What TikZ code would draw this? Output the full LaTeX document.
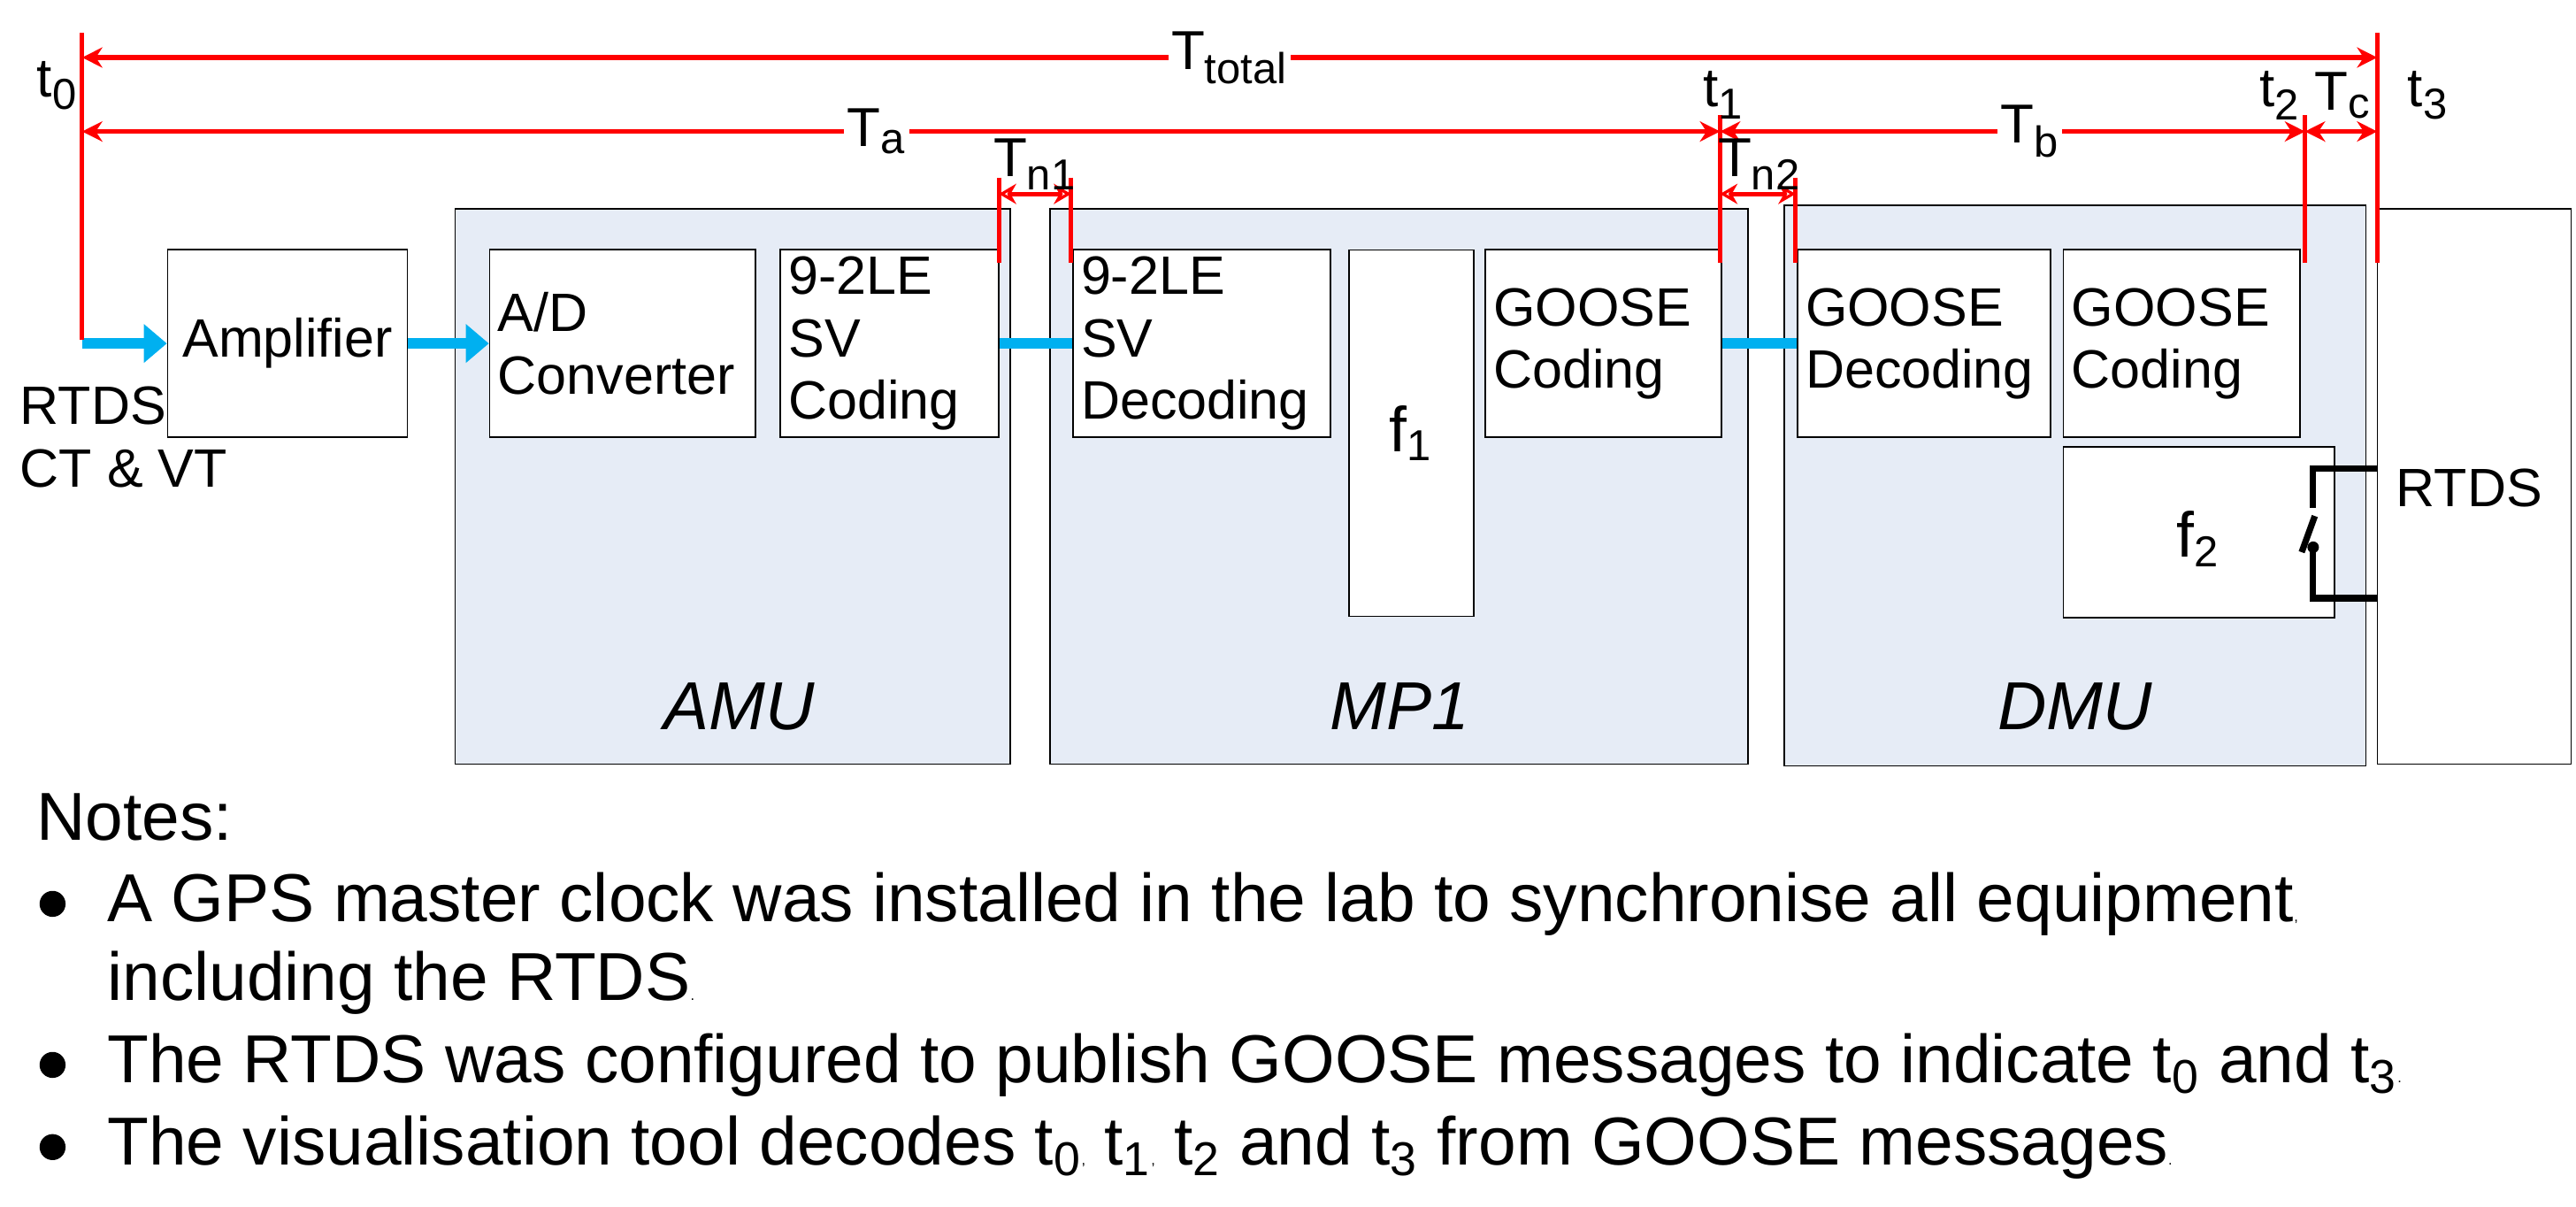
\documentclass[tikz,border=0pt]{standalone}
\usepackage{fontspec}
\setmainfont{Liberation Sans}
\usetikzlibrary{arrows.meta}
\newcommand{\sbs}[1]{\textsubscript{\fontsize{15}{15}\selectfont #1}}
\begin{document}
\begin{tikzpicture}[x=0.02cm,y=-0.02cm,
  box/.style={draw=black,line width=0.5pt,fill=white,inner sep=0pt,font=\fontsize{18.7}{21.5}\selectfont},
  unit/.style={draw=black,line width=0.5pt,fill={rgb,255:red,230;green,236;blue,246}},
  red line/.style={draw=red,line width=1.6pt},
  dim/.style={red line,{Stealth[length=7pt,width=7pt]}-{Stealth[length=7pt,width=7pt]}},
  odim/.style={red line,{Stealth[length=6pt,width=7pt,open]}-{Stealth[length=6pt,width=7pt,open]}},
  sig/.style={draw={rgb,255:red,0;green,176;blue,240},line width=3.5pt},
  sigarrow/.style={sig,-{Triangle[length=8pt,width=13pt]}},
  lab/.style={font=\fontsize{19}{19}\selectfont,inner sep=1pt},
  ital/.style={font=\fontsize{23.5}{23.5}\selectfont\itshape}]
\useasboundingbox (0,0) rectangle (1568,734);
% units
\path[unit] (277,127) rectangle (615,465);
\path[unit] (639,127) rectangle (1064,465);
\path[unit] (1086,125) rectangle (1440,466);
\draw[line width=0.5pt] (1447,127) rectangle (1565,465);
\node[ital] (amu) at (450,430) {AMU};
\node[ital] (mp1) at (852,430) {MP1};
\node[ital] (dmu) at (1263,430) {DMU};
% boxes
\node[box,minimum width=2.92cm,minimum height=2.28cm] (amp) at (175,209) {Amplifier};
\node[box,minimum width=3.24cm,minimum height=2.28cm,align=left,text width=3.04cm] (ad) at (379,209) {A/D\\Converter};
\node[box,minimum width=2.66cm,minimum height=2.28cm,align=left,text width=2.46cm] (svc) at (541.5,209) {9-2LE\\SV\\Coding};
\node[box,minimum width=3.14cm,minimum height=2.28cm,align=left,text width=2.94cm] (svd) at (731.5,209) {9-2LE\\SV\\Decoding};
\node[box,minimum width=1.52cm,minimum height=4.46cm,font=\fontsize{22}{22}\selectfont] (f1) at (859,263.5) {f\sbs{1}};
\node[box,minimum width=2.88cm,minimum height=2.28cm,align=left,text width=2.68cm] (gc1) at (976,209) {GOOSE\\Coding};
\node[box,minimum width=3.08cm,minimum height=2.28cm,align=left,text width=2.88cm] (gd) at (1171,209) {GOOSE\\Decoding};
\node[box,minimum width=2.88cm,minimum height=2.28cm,align=left,text width=2.68cm] (gc2) at (1328,209) {GOOSE\\Coding};
\node[box,minimum width=3.30cm,minimum height=2.08cm] (f2box) at (1338.5,324) {};
\node[font=\fontsize{22}{22}\selectfont] (f2) at (1338,328) {f\sbs{2}};
\node[font=\fontsize{18.7}{18.7}\selectfont] (rtds) at (1503,297) {RTDS};
\node[font=\fontsize{18.7}{21.5}\selectfont,align=left,anchor=west,inner sep=0pt] (src) at (12,266) {RTDS\\CT \& VT};
% switch
\draw[line width=2.2pt] (1447,285) -- (1408,285) -- (1408,309);
\draw[line width=2.2pt] (1401,336) -- (1409,314);
\draw[line width=2.2pt] (1408,333) -- (1408,364) -- (1447,364);
\fill (1408,333) circle (2pt);
% signal flow
\coordinate (s0) at (50,209);
\draw[sigarrow] (s0) -- (amp.west);
\draw[sigarrow] (amp.east) -- (ad.west);
\draw[sig] (svc.east) -- (svd.west);
\draw[sig] (gc1.east) -- (gd.west);
% time markers
\coordinate (t0a) at (50,20); \coordinate (t0b) at (50,207);
\coordinate (t1a) at (1047,70); \coordinate (t1b) at (1047,160);
\coordinate (t2a) at (1403,70); \coordinate (t2b) at (1403,160);
\coordinate (t3a) at (1447,20); \coordinate (t3b) at (1447,160);
\coordinate (n1a) at (608,108); \coordinate (n1b) at (608,160);
\coordinate (n2a) at (652,108); \coordinate (n2b) at (652,160);
\coordinate (n3a) at (1093,108); \coordinate (n3b) at (1093,160);
\foreach \p in {t0,t1,t2,t3,n1,n2,n3} \draw[red line] (\p a) -- (\p b);
\draw[dim] (50,35) -- node[lab,fill=white] (tt) {T\sbs{total}} (1447,35);
\draw[dim] (50,80) -- node[lab,fill=white,pos=0.485] (ta) {T\sbs{a}} (1047,80);
\draw[dim] (1047,80) -- node[lab,fill=white,pos=0.53] (tb) {T\sbs{b}} (1403,80);
\draw[dim] (1403,80) -- (1447,80);
\draw[odim] (608,118) -- (652,118);
\draw[odim] (1047,118) -- (1093,118);
\node[lab] (lt0) at (35,52) {t\sbs{0}};
\node[lab] (lt1) at (1049,58) {t\sbs{1}};
\node[lab] (lt2) at (1388,58) {t\sbs{2}};
\node[lab] (ltc) at (1426,58) {T\sbs{c}};
\node[lab] (lt3) at (1478,58) {t\sbs{3}};
\node[lab] (ln1) at (630,100) {T\sbs{n1}};
\node[lab] (ln2) at (1071,100) {T\sbs{n2}};
% notes
\begin{scope}[every node/.style={anchor=west,inner sep=0pt,font=\fontsize{23.5}{23.5}\selectfont}]
\node (notes) at (22,497) {Notes:};
\foreach \yy in {550,648,698} \fill (32,\yy) circle (4.5pt);
\node (n1) at (65,550) {A GPS master clock was installed in the lab to synchronise all equipment{\tiny,}};
\node (n1c) at (65,598) {including the RTDS{\tiny.}};
\node (n2) at (65,648) {The RTDS was configured to publish GOOSE messages to indicate t\textsubscript{0} and t\textsubscript{3}{\tiny.}};
\node (n3) at (65,698) {The visualisation tool decodes t\textsubscript{0}{\tiny,} t\textsubscript{1}{\tiny,} t\textsubscript{2} and t\textsubscript{3} from GOOSE messages{\tiny.}};
\end{scope}
\end{tikzpicture}
\end{document}
